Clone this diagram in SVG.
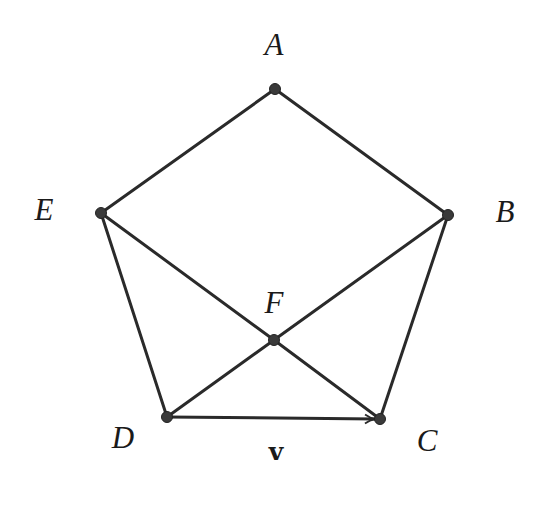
<svg xmlns="http://www.w3.org/2000/svg" width="556" height="508" viewBox="0 0 556 508">
<style>
.e{stroke:#2a2a2a;stroke-width:3;fill:none;stroke-linecap:round}
.n{fill:#3a3a3a;stroke:#222;stroke-width:1}
.l{font-family:"Liberation Serif",serif;font-style:italic;font-size:31px;fill:#1a1a1a;text-anchor:middle}
.v{font-family:"DejaVu Serif",serif;font-weight:bold;font-size:25px;fill:#1a1a1a;text-anchor:middle}
</style>
<defs>
<marker id="ar" markerWidth="14" markerHeight="12" refX="11" refY="6" orient="auto" markerUnits="userSpaceOnUse">
<path d="M1,1.5 Q6,5 11,6 Q6,7 1,10.5" fill="none" stroke="#2a2a2a" stroke-width="1.8"/>
</marker>
</defs>
<rect width="556" height="508" fill="#fff"/>
<g id="connectors">
<line class="e" x1="275" y1="89" x2="101" y2="213"/>
<line class="e" x1="275" y1="89" x2="448" y2="215"/>
<line class="e" x1="101" y1="213" x2="167" y2="417"/>
<line class="e" x1="448" y1="215" x2="380" y2="419"/>
<line class="e" x1="101" y1="213" x2="274" y2="340"/>
<line class="e" x1="274" y1="340" x2="380" y2="419"/>
<line class="e" x1="167" y1="417" x2="274" y2="340"/>
<line class="e" x1="274" y1="340" x2="448" y2="215"/>
<line class="e" x1="167" y1="417" x2="375" y2="419" marker-end="url(#ar)"/>
</g>
<g id="A"><circle class="n" cx="275" cy="89" r="5.5"/><text class="l" x="274" y="55">A</text></g>
<g id="B"><circle class="n" cx="448" cy="215" r="5.5"/><text class="l" x="505" y="222">B</text></g>
<g id="C"><circle class="n" cx="380" cy="419" r="5.5"/><text class="l" x="427" y="451">C</text></g>
<g id="D"><circle class="n" cx="167" cy="417" r="5.5"/><text class="l" x="123" y="448">D</text></g>
<g id="E"><circle class="n" cx="101" cy="213" r="5.5"/><text class="l" x="44" y="220">E</text></g>
<g id="F"><circle class="n" cx="274" cy="340" r="5.5"/><text class="l" x="274" y="313">F</text></g>
<text class="v" x="276" y="460">v</text>
</svg>
